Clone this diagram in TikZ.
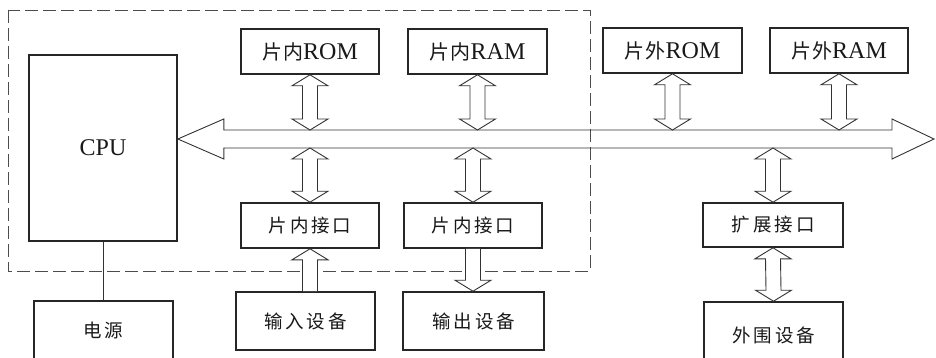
\documentclass[tikz,border=0pt]{standalone}
\usepackage{fontspec}
\setmainfont{Liberation Serif}
\newfontfamily\cjk{Noto Sans CJK SC}
\usetikzlibrary{calc}
\newcommand{\zh}[1]{{\cjk\fontsize{20}{22}\selectfont #1}}
\newcommand{\zhb}[1]{{\cjk\fontsize{18.5}{22}\selectfont #1}}
\newcommand{\gap}{\kern3pt}
% double vertical fat arrow: #1 top tip, #2 bottom tip
\newcommand{\dvarrow}[2]{%
  \draw[fat] (#1) -- ++(18,11) -- ++(-10.5,0) -- ($(#2)+(7.5,-11)$) -- ++(10.5,0) -- (#2)
    -- ++(-18,-11) -- ++(10.5,0) -- ($(#1)+(-7.5,11)$) -- ++(-10.5,0) -- cycle;}
% single fat arrow pointing down: #1 start (top), #2 tip (bottom)
\newcommand{\downarrowfat}[2]{%
  \draw[fat] ($(#1)+(7.5,0)$) -- ($(#2)+(7.5,-11)$) -- ++(10.5,0) -- (#2)
    -- ++(-18,-11) -- ++(10.5,0) -- ($(#1)+(-7.5,0)$);}
% single fat arrow pointing up: #1 tip (top), #2 start (bottom)
\newcommand{\uparrowfat}[2]{%
  \draw[fat] ($(#2)+(7.5,0)$) -- ($(#1)+(7.5,11)$) -- ++(10.5,0) -- (#1)
    -- ++(-18,11) -- ++(10.5,0) -- ($(#2)+(-7.5,0)$);}
\begin{document}
\begin{tikzpicture}[x=1pt,y=-1pt,
  box/.style={draw=black!85, line width=1.6pt, inner sep=0pt, fill=white,
    font=\fontsize{24}{26}\selectfont, text=black!90},
  fat/.style={draw=black!80, line width=0.9pt, fill=white, line join=miter},
  busline/.style={draw=black!80, line width=0.9pt, line join=miter},
  chipline/.style={draw=black!70, line width=0.9pt, dash pattern=on 13pt off 5pt},
  wire/.style={draw=black!80, line width=0.9pt}]
\useasboundingbox (0,0) rectangle (936,358);
% chip boundary
\draw[chipline] (8,10) rectangle (590,271);
% boxes
\node[box, minimum width=148, minimum height=186] (cpu) at (103,148) {CPU};
\node[box, minimum width=139, minimum height=58] (pwr) at (103.5,330) {\zhb{电\gap 源}};
\node[box, minimum width=138, minimum height=45] (rom1) at (310,51.5) {\zh{片\kern1pt 内}ROM};
\node[box, minimum width=139, minimum height=45] (ram1) at (477.5,51.5) {\zh{片\kern1pt 内}RAM};
\node[box, minimum width=139, minimum height=45] (rom2) at (672.5,50.5) {\zh{片\kern1pt 外}ROM};
\node[box, minimum width=138, minimum height=45] (ram2) at (839,50.5) {\zh{片\kern1pt 外}RAM};
\node[box, minimum width=138, minimum height=45] (if1) at (310,225.5) {\zhb{片\gap 内\gap 接\gap 口}};
\node[box, minimum width=138, minimum height=45] (if2) at (473,225.5) {\zhb{片\gap 内\gap 接\gap 口}};
\node[box, minimum width=140, minimum height=44] (ext) at (773,225) {\zhb{扩\gap 展\gap 接\gap 口}};
\node[box, minimum width=139, minimum height=58] (in) at (305.5,321) {\zhb{输\gap 入\gap 设\gap 备}};
\node[box, minimum width=141, minimum height=58] (out) at (473.5,321) {\zhb{输\gap 出\gap 设\gap 备}};
\node[box, minimum width=139, minimum height=66] (per) at (773.5,335) {\zhb{外\gap 围\gap 设\gap 备}};
% bus
\coordinate (busL) at (cpu.east |- 0,139);
\coordinate (busR) at (934,139);
\coordinate (busT) at (0,130);
\coordinate (busB) at (0,148);
\draw[busline] (busL) -- ++(46,-20) -- ++(0,11) -- ($(busR)+(-42,-9)$) -- ++(0,-11) -- (busR)
  -- ++(-42,20) -- ++(0,-11) -- ($(busL)+(46,9)$) -- ++(0,11) -- cycle;
% memory to bus
\dvarrow{rom1.south}{rom1.south |- busT}
\dvarrow{ram1.south}{ram1.south |- busT}
\dvarrow{rom2.south}{rom2.south |- busT}
\dvarrow{ram2.south}{ram2.south |- busT}
% bus to interfaces
\dvarrow{if1.north |- busB}{if1.north}
\dvarrow{if2.north |- busB}{if2.north}
\dvarrow{ext.north |- busB}{ext.north}
% interfaces to devices
\uparrowfat{if1.south}{if1.south |- in.north}
\downarrowfat{if2.south}{if2.south |- out.north}
\dvarrow{ext.south}{per.north}
% power
\draw[wire] (cpu.south) -- (cpu.south |- pwr.north);
\end{tikzpicture}
\end{document}
